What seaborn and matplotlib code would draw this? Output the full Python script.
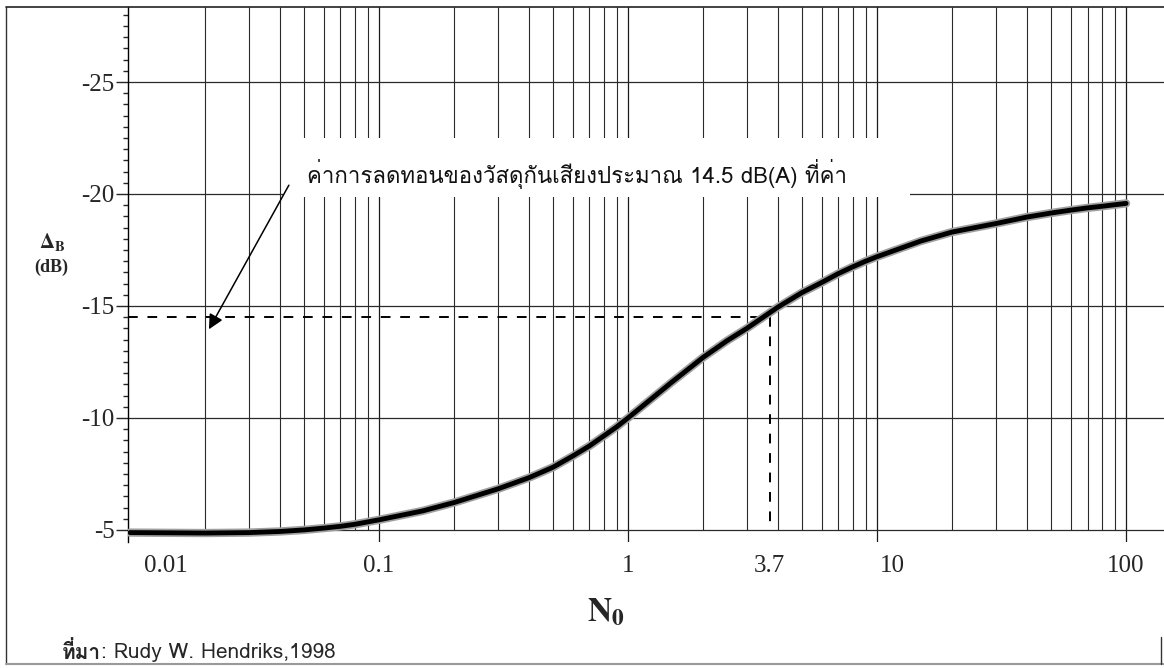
import numpy as np
import matplotlib.pyplot as plt
import seaborn as sns
from matplotlib.lines import Line2D
from matplotlib.patches import Rectangle
from matplotlib.ticker import NullLocator
from matplotlib.transforms import ScaledTranslation

# ค่าที่อ่านจากเส้นกราฟ
n0 = [0.01, 0.02, 0.03, 0.04, 0.05, 0.06, 0.07, 0.08, 0.1, 0.15, 0.2, 0.3, 0.4, 0.5, 0.6, 0.7, 0.8, 0.9, 1,
      1.5, 2, 2.5, 3, 4, 5, 6, 7, 8, 9, 10, 15, 20, 30, 40, 50, 60, 70, 80, 90, 100]
delta_b = [-4.88, -4.86, -4.88, -4.93, -5.0, -5.08, -5.16, -5.25, -5.45, -5.85, -6.22, -6.83, -7.33, -7.8,
           -8.3, -8.75, -9.2, -9.6, -10.0, -11.6, -12.7, -13.45, -14.0, -14.95, -15.6, -16.05, -16.45, -16.75,
           -17.0, -17.2, -17.9, -18.3, -18.68, -18.97, -19.15, -19.28, -19.38, -19.45, -19.52, -19.58]

# จุดอ้างอิง (เส้นประ)
n0_mark = 3.7
db_mark = -14.5

x_ticks = [0.01, 0.1, 1, 3.7, 10, 100]
x_tick_labels = ['0.01', '0.1', '1', '3.7', '10', '100']
y_ticks = [-25, -20, -15, -10, -5]
y_tick_labels = ['-25', '-20', '-15', '-10', '-5']

note_text = 'ค่าการลดทอนของวัสดุกันเสียงประมาณ 14.5 dB(A) ที่ค่า'
source_head = 'ที่มา'
source_rest = ': Rudy W. Hendriks,1998'

thai_family = ['Loma', 'DejaVu Sans']

sns.set_style('white')
plt.rcParams['font.family'] = ['Liberation Serif', 'DejaVu Serif']
plt.rcParams['mathtext.fontset'] = 'stix'

W, H = 1164, 668
fig = plt.figure(figsize=(W / 100, H / 100), dpi=100)
ax = fig.add_axes([128 / W, 1 - 542 / H, 1 - 128 / W, (542 - 7) / H])

# เส้นกราฟ (ขอบเทาให้ดูเหมือนภาพสแกน)
sns.lineplot(x=n0, y=delta_b, ax=ax, color='#a0a0a0', lw=6, zorder=4)
sns.lineplot(x=n0, y=delta_b, ax=ax, color='black', lw=3.5, zorder=5)

ax.set_xscale('log')
ax.set_xlim(0.00982, 142)
ax.set_ylim(-4.46, -28.35)
ymin, ymax = ax.get_ylim()

# เส้นกริด
minor_x = [m * 10.0 ** e for e in range(-2, 2) for m in range(2, 10)]
ax.vlines(minor_x, -5, ymax, color='#2a2a2a', lw=0.8, zorder=2)
for d in [0.1, 1, 10, 100]:
    ax.axvline(d, color='#1a1a1a', lw=0.9, zorder=2)
for y in y_ticks:
    ax.axhline(y, color='#2a2a2a', lw=0.9, zorder=2)

# เส้นประ
ax.hlines(db_mark, ax.get_xlim()[0], n0_mark, color='black', lw=1.4, ls=(0, (5, 5)), zorder=3)
ax.vlines(n0_mark, db_mark, -5, color='black', lw=1.4, ls=(0, (5, 5)), zorder=3)

for s in ['top', 'right', 'bottom']:
    ax.spines[s].set_visible(False)
ax.spines['left'].set_color('black')
ax.spines['left'].set_linewidth(1)

ax.set_yticks(y_ticks, y_tick_labels)
ax.set_yticks(np.arange(-28, -5, 0.5), minor=True)
ax.tick_params(axis='y', which='major', length=9, width=1, pad=0.5, labelsize=18, direction='out', left=True)
ax.tick_params(axis='y', which='minor', length=3.5, width=1, direction='out', left=True)
ax.set_xticks(x_ticks, x_tick_labels)
ax.xaxis.set_minor_locator(NullLocator())
ax.tick_params(axis='x', length=0, pad=9, labelsize=18)
xl = ax.get_xticklabels()
xl[0].set_transform(xl[0].get_transform() + ScaledTranslation(0.36, 0, fig.dpi_scale_trans))
xl[4].set_transform(xl[4].get_transform() + ScaledTranslation(0.15, 0, fig.dpi_scale_trans))
ax.set_xlabel('')
ax.set_ylabel('')

# กล่องข้อความ
ax.add_patch(Rectangle((283 / W, 1 - 197 / H), (910 - 283) / W, (197 - 138) / H,
                       transform=fig.transFigure, facecolor='white', edgecolor='none', zorder=3))
fig.text(307 / W, 1 - 174 / H, note_text, family=thai_family, size=16,
         ha='left', va='center', color='#111', zorder=6)
ax.annotate('', xy=(0.0205, -13.85), xytext=(0.0440, -20.5),
            arrowprops=dict(arrowstyle='-|>', color='black', lw=1.1, mutation_scale=22), zorder=6)

# ชื่อแกน
fig.text(52 / W, 1 - 242 / H, r'$\mathbf{\Delta_B}$', size=15, ha='center', va='center')
fig.text(51 / W, 1 - 267 / H, '(dB)', weight='bold', size=13, ha='center', va='center')
fig.text(606 / W, 1 - 612 / H, r'$\mathbf{N_0}$', size=24, ha='center', va='center')

# ที่มา
t1 = fig.text(62 / W, 1 - 652 / H, source_head, family=thai_family, weight='bold',
              size=15, ha='left', va='center')
ax.annotate(source_rest, xy=(1, 0.5), xycoords=t1, va='center', ha='left', size=15,
            family=thai_family, annotation_clip=False)

# กรอบนอก
fig.add_artist(Line2D([6 / W, 6 / W], [1 - 664 / H, 1 - 7 / H], transform=fig.transFigure, color='#333', lw=1))
fig.add_artist(Line2D([6 / W, 1], [1 - 7 / H, 1 - 7 / H], transform=fig.transFigure, color='#222', lw=1.2))
fig.add_artist(Line2D([6 / W, 1], [1 - 664 / H, 1 - 664 / H], transform=fig.transFigure, color='#999', lw=1.5))
fig.add_artist(Line2D([1161 / W, 1161 / W], [1 - 664 / H, 1 - 637 / H], transform=fig.transFigure, color='#333', lw=1))

fig.savefig('out.png', dpi=100)
